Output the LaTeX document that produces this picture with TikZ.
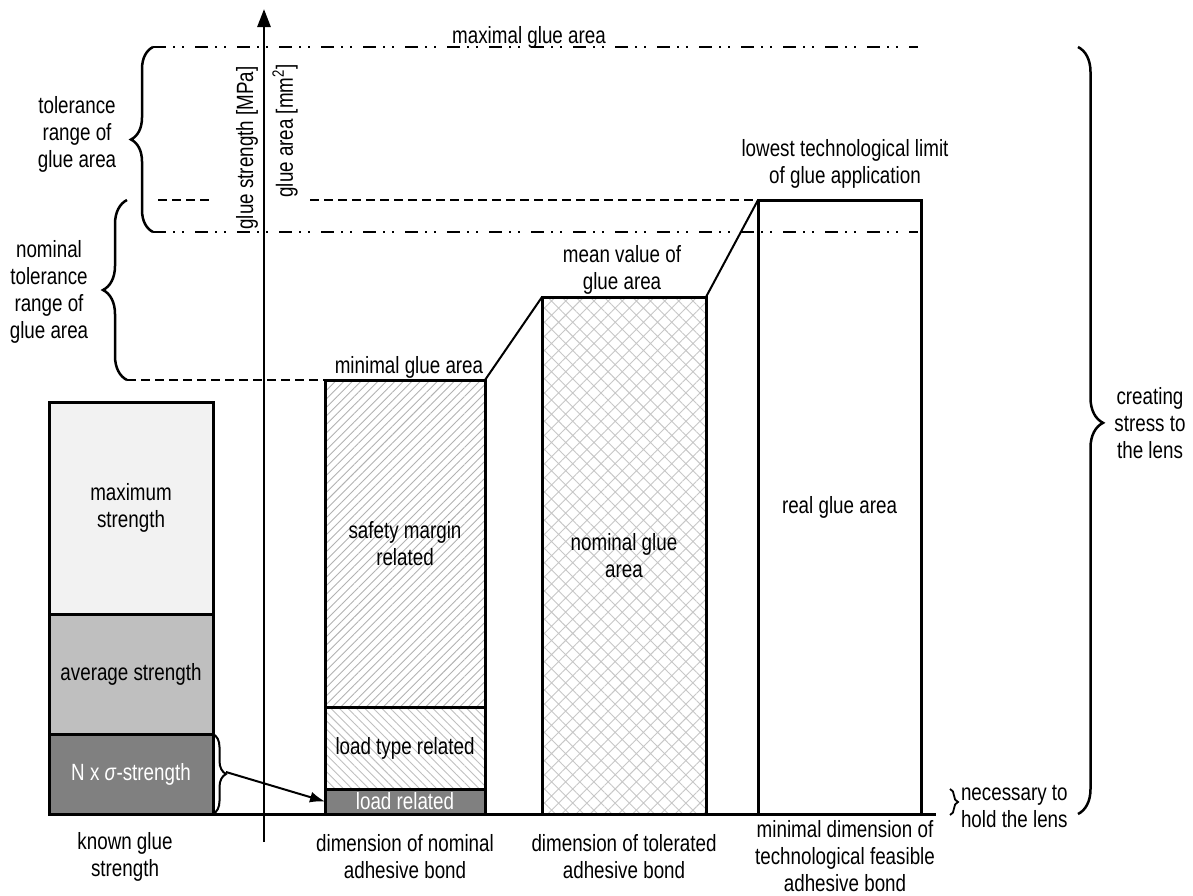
\documentclass[tikz,border=0pt]{standalone}
\usepackage{fontspec}
\setmainfont{Liberation Sans}[FakeStretch=0.8]
\usetikzlibrary{arrows.meta,patterns.meta,decorations.pathreplacing}
\begin{document}
\begin{tikzpicture}[x=1pt,y=-1pt,
  every node/.style={font=\fontsize{23.5}{27}\selectfont, inner sep=0pt, outer sep=0pt, align=center},
  box/.style={draw, line width=3pt, rectangle, anchor=south west},
  dashdot/.style={line width=1.4pt, dash pattern=on 13pt off 7pt on 2pt off 7pt on 2pt off 11pt},
  dsh/.style={line width=1.4pt, dash pattern=on 9pt off 5pt},
  brc/.style={decorate, decoration={brace, amplitude=#1}, line width=2.5pt},
  conn/.style={line width=2pt},
]
\useasboundingbox (0,0) rectangle (1193,895);

% guide lines
\coordinate (t0) at (153,47);  \coordinate (t1) at (918,47);
\coordinate (u0) at (153,232); \coordinate (u1) at (918,232);
\coordinate (d0) at (158,200); \coordinate (d1) at (213,200); \coordinate (d2) at (310,200);
\coordinate (m0) at (127,380);
\draw[dashdot] (t0) -- (t1);
\draw[dashdot] (u0) -- (u1);

% left column: known glue strength
\node[box, fill=black!5, minimum width=164pt, minimum height=212pt] (maxs) at (49,614) {maximum\\strength};
\node[box, fill=black!25, minimum width=164pt, minimum height=120pt] (avgs) at (49,734) {average strength};
\node[box, fill=black!50, minimum width=164pt, minimum height=80pt, text=white] (nsig) at (49,814) {N x \textit{σ}-strength};

% column 2: nominal adhesive bond
\node[box, pattern={Lines[angle=45,distance=6pt,line width=0.9pt]}, pattern color=black!30, minimum width=160pt, minimum height=327pt] (safety) at (325,707) {};
\node at (safety.center) {safety margin\\related};
\node[box, pattern={Lines[angle=-45,distance=6pt,line width=0.9pt]}, pattern color=black!25, minimum width=160pt, minimum height=82pt] (ltype) at (325,789) {};
\node at (ltype.center) {load type related};
\node[box, fill=black!50, minimum width=160pt, minimum height=25pt] (lrel) at (325,814) {};
\node[text=white] at (lrel.center) {load related};

% column 3: tolerated adhesive bond
\node[box, pattern={Hatch[angle=45,distance=10pt,line width=0.9pt]}, pattern color=black!22, minimum width=164pt, minimum height=517pt] (nom) at (542,814) {};
\node at (nom.center) {nominal glue\\area};

% column 4: technological feasible bond
\node[box, minimum width=163pt, minimum height=614pt] (real) at (758,814) {real glue area};

% baseline and axis
\coordinate (b1) at (936,814);
\draw[line width=3pt] (nsig.south west) -- (b1);
\coordinate (ax0) at (264,842); \coordinate (ax1) at (264,9);
\draw[line width=2.8pt, -{Triangle[length=18pt,width=13pt]}] (ax0) -- (ax1);

% dashed lines
\draw[dsh] (d0) -- (d1);
\draw[dsh] (d2) -- (real.north west);
\draw[dsh] (m0) -- (safety.north west);

% connectors between column tops
\draw[conn] (safety.north east) -- (nom.north west);
\draw[conn] (nom.north east) -- (real.north west);

% braces
\draw[brc=22pt] (u0) -- (t0);
\draw[brc=24pt] (m0) -- (127,200);
\coordinate (r0) at (1078,47); \coordinate (r1) at (1078,814);
\draw[decorate, decoration={brace, amplitude=25pt, aspect=0.49}, line width=2.5pt] (r0) -- (r1);
\draw[brc=13pt, line width=2pt] (nsig.north east) -- (nsig.south east);
\coordinate (s0) at (950,789); \coordinate (s1) at (950,815);
\draw[brc=8pt, line width=1.8pt] (s0) -- (s1);

% arrow from N x sigma brace to load related
\coordinate (nt) at (226,772);
\draw[conn, -{Latex[length=15pt,width=11pt]}] (nt) -- (lrel.west);

% labels
\node (lmax) at (529,37) {maximal glue area};
\node (ltol) at (77,134) {tolerance\\range of\\glue area};
\node (lnomtol) at (49,292) {nominal\\tolerance\\range of\\glue area};
\node[rotate=90] (ystr) at (247,148) {glue strength [MPa]};
\node[rotate=90] (yarea) at (285,131) {glue area [mm\textsuperscript{2}]};
\node (lmin) at (409,367) {minimal glue area};
\node (lmean) at (622,270) {mean value of\\glue area};
\node (llow) at (845,164) {lowest technological limit\\of glue application};
\node (lcre) at (1150,423) {creating\\stress to\\the lens};
\node[anchor=west, align=left] (lnec) at (961,807) {necessary to\\hold the lens};
\node (lknown) at (125,857) {known glue\\strength};
\node (ldimnom) at (405,857) {dimension of nominal\\adhesive bond};
\node (ldimtol) at (624,857) {dimension of tolerated\\adhesive bond};
\node (ldimmin) at (845,856) {minimal dimension of\\technological feasible\\adhesive bond};
\end{tikzpicture}
\end{document}
